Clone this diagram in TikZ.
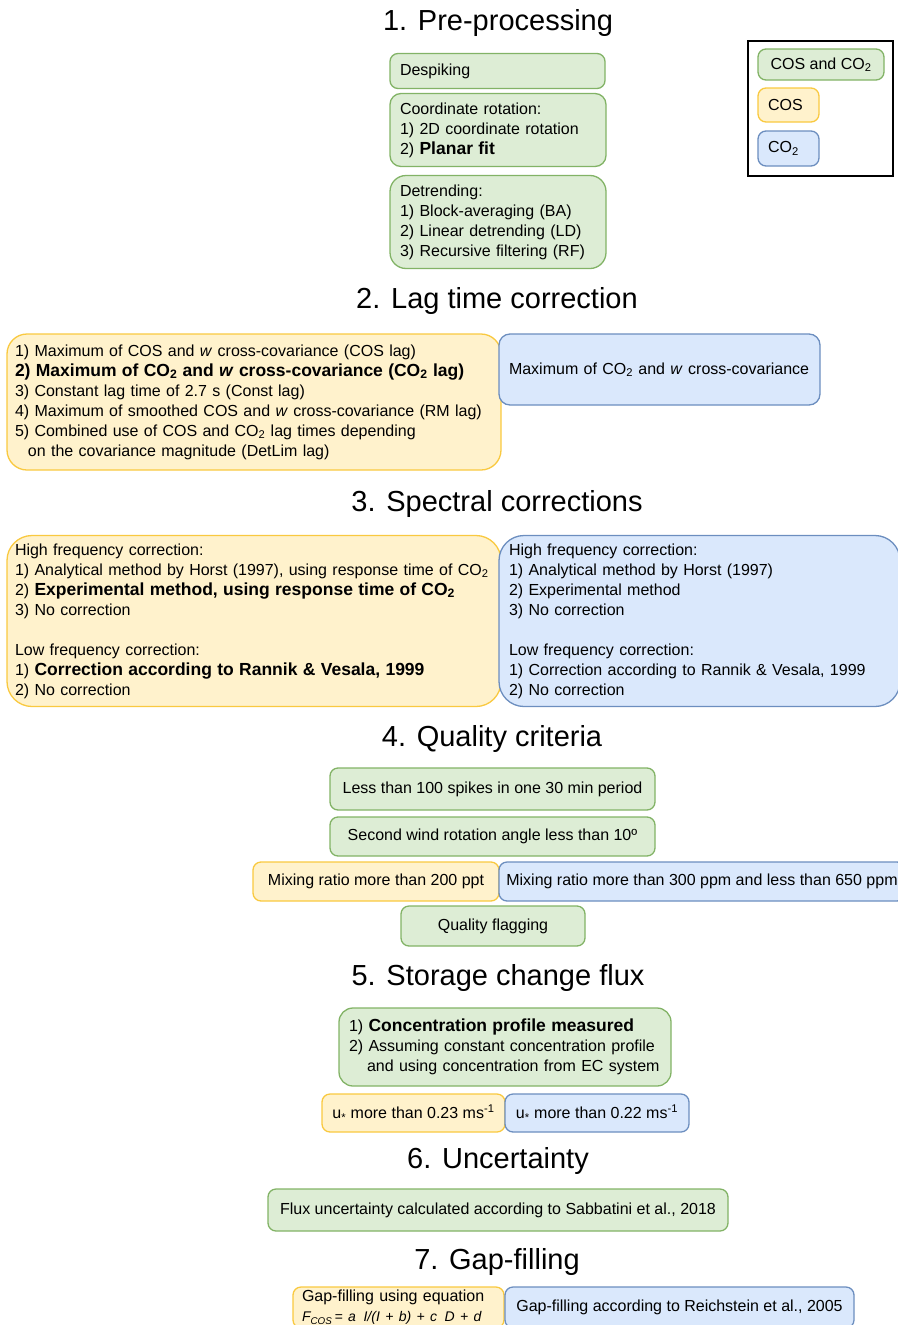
\documentclass[tikz,border=0pt]{standalone}
\usepackage{fontspec}
\setmainfont{Liberation Sans}
\usetikzlibrary{positioning}
\definecolor{greenfill}{HTML}{DDEDD5}
\definecolor{greenline}{HTML}{82B366}
\definecolor{yellowfill}{HTML}{FFF2CC}
\definecolor{yellowline}{HTML}{F9C940}
\definecolor{bluefill}{HTML}{DAE8FC}
\definecolor{blueline}{HTML}{6C8EBF}
\newcommand{\COtwo}{CO\textsubscript{2}}
\newcommand{\boldpart}[1]{{\fontsize{17.5}{20}\selectfont\bfseries #1}}
\newcommand{\ustar}{u\textsubscript{*}}

\begin{document}
\begin{tikzpicture}[x=1pt, y=-1pt,
  bodytext/.style={font=\fontsize{16}{20}\selectfont},
  flowbox/.style={draw, rounded corners=8pt, line width=1.3pt, inner xsep=10pt, inner ysep=0pt, align=left, bodytext},
  greenbox/.style={flowbox, draw=greenline, fill=greenfill},
  yellowbox/.style={flowbox, draw=yellowline, fill=yellowfill},
  bluebox/.style={flowbox, draw=blueline, fill=bluefill},
  heading/.style={font=\fontsize{29}{34}\selectfont}]
\useasboundingbox (0,0) rectangle (897,1325);

% 1. Pre-processing
\node (h1) [heading] at (498,23) {1. Pre-processing};
\node (despike) [greenbox, text width=195pt, minimum height=35pt] at (497.5,71) {Despiking};
\node (rotation) [greenbox, text width=196pt, minimum height=73pt, rounded corners=11pt] at (498,130) {Coordinate rotation:\\1) 2D coordinate rotation\\2) \boldpart{Planar fit}};
\node (detrend) [greenbox, text width=196pt, minimum height=93pt, rounded corners=16pt] at (498,222) {Detrending:\\1) Block-averaging (BA)\\2) Linear detrending (LD)\\3) Recursive filtering (RF)};

% legend
\node (legend) [draw, line width=1.3pt, minimum width=145pt, minimum height=135pt] at (820.5,108.5) {};
\node (legboth) [greenbox, minimum width=126pt, minimum height=31pt, align=center] at (821,64.5) {COS and \COtwo};
\node (legcos) [yellowbox, text width=41pt, minimum height=34pt] at (788.5,105) {COS};
\node (legco2) [bluebox, text width=41pt, minimum height=35pt] at (788.5,148.5) {\COtwo};

% 2. Lag time correction
\node (h2) [heading] at (497,301) {2. Lag time correction};
\node (lagcos) [yellowbox, inner xsep=8pt, text width=478pt, minimum height=136pt, rounded corners=20pt] at (254,402) {1) Maximum of COS and \textit{w} cross-covariance (COS lag)\\\boldpart{2) Maximum of \COtwo{} and \textit{w} cross-covariance (\COtwo{} lag)}\\3) Constant lag time of 2.7 s (Const lag)\\4) Maximum of smoothed COS and \textit{w} cross-covariance (RM lag)\\5) Combined use of COS and \COtwo{} lag times depending\\\hspace*{13pt}on the covariance magnitude (DetLim lag)};
\node (lagco2) [bluebox, text width=301pt, minimum height=71pt, rounded corners=11pt] at (659.5,369.5) {Maximum of \COtwo{} and \textit{w} cross-covariance};

% 3. Spectral corrections
\node (h3) [heading] at (497,504) {3. Spectral corrections};
\node (speccos) [yellowbox, inner xsep=8pt, text width=478pt, minimum height=171pt, rounded corners=25pt] at (254,621) {High frequency correction:\\1) Analytical method by Horst (1997), using response time of \COtwo\\2) \boldpart{Experimental method, using response time of \COtwo}\\3) No correction\\[20pt]Low frequency correction:\\1) \boldpart{Correction according to Rannik \& Vesala, 1999}\\2) No correction};
\node (specco2) [bluebox, text width=381pt, minimum height=171pt, rounded corners=25pt] at (699.5,621) {High frequency correction:\\1) Analytical method by Horst (1997)\\2) Experimental method\\3) No correction\\[20pt]Low frequency correction:\\1) Correction according to Rannik \& Vesala, 1999\\2) No correction};

% 4. Quality criteria
\node (h4) [heading] at (492,739) {4. Quality criteria};
\node (spikes) [greenbox, minimum width=325pt, minimum height=42pt, align=center] at (492.5,789) {Less than 100 spikes in one 30 min period};
\node (windangle) [greenbox, minimum width=325pt, minimum height=39pt, align=center] at (492.5,836.5) {Second wind rotation angle less than 10º};
\node (mixcos) [yellowbox, minimum width=246pt, minimum height=39pt, align=center] at (376,881.5) {Mixing ratio more than 200 ppt};
\node (mixco2) [bluebox, inner xsep=2pt, minimum width=406pt, minimum height=39pt, align=center] at (702,881.5) {Mixing ratio more than 300 ppm and less than 650 ppm};
\node (flagging) [greenbox, minimum width=184pt, minimum height=40pt, align=center] at (493,926) {Quality flagging};

% 5. Storage change flux
\node (h5) [heading] at (498,978) {5. Storage change flux};
\node (storage) [greenbox, text width=312pt, minimum height=78pt, rounded corners=14pt] at (505,1047) {1) \boldpart{Concentration profile measured}\\2) Assuming constant concentration profile\\\hspace*{18pt}and using concentration from EC system};
\node (ustarcos) [yellowbox, minimum width=183pt, minimum height=38pt, align=center] at (413.5,1113) {\ustar{} more than 0.23 ms\textsuperscript{-1}};
\node (ustarco2) [bluebox, minimum width=184pt, minimum height=38pt, align=center] at (597,1113) {\ustar{} more than 0.22 ms\textsuperscript{-1}};

% 6. Uncertainty
\node (h6) [heading] at (498,1161) {6. Uncertainty};
\node (uncert) [greenbox, minimum width=460pt, minimum height=42pt, align=center] at (498,1210) {Flux uncertainty calculated according to Sabbatini et al., 2018};

% 7. Gap-filling
\node (h7) [heading] at (497,1262) {7. Gap-filling};
\node (gapcos) [yellowbox, inner xsep=9pt, text width=193pt, minimum height=41pt] at (398.5,1307.5) {Gap-filling using equation\\{\itshape\fontsize{14}{16}\selectfont F\textsubscript{COS}\,= a\, I/(I + b) + c\, D + d}};
\node (gapco2) [bluebox, minimum width=349pt, minimum height=41pt, align=center] at (679.5,1307.5) {Gap-filling according to Reichstein et al., 2005};
\end{tikzpicture}
\end{document}
